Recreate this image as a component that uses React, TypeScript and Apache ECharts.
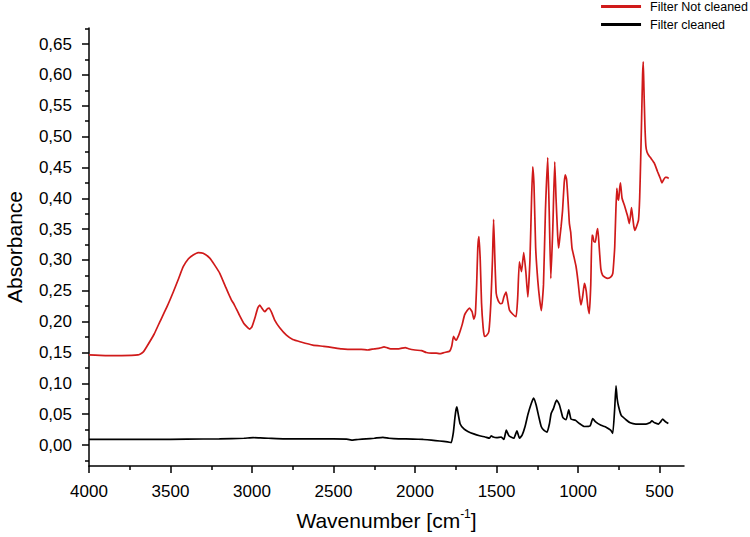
import React, { useEffect, useRef } from "react";
import * as echarts from "echarts";

const seriesNames = ["Filter Not cleaned", "Filter cleaned"];

const notCleanedWavenumber = [
  4000, 3900, 3800, 3700, 3670, 3647, 3600, 3565, 3520, 3483, 3450, 3422, 3390, 3361, 3330, 3300,
  3259, 3230, 3197, 3160, 3135, 3126, 3110, 3080, 3050, 3025, 3014, 3000, 2980, 2965, 2952, 2940,
  2922, 2905, 2895, 2880, 2860, 2830, 2789, 2750, 2700, 2627, 2560, 2505, 2450, 2382, 2330, 2290,
  2250, 2217, 2190, 2175, 2150, 2100, 2060, 2040, 2000, 1960, 1931, 1900, 1870, 1849, 1820, 1788,
  1775, 1764, 1755, 1747, 1735, 1723, 1710, 1696, 1680, 1666, 1650, 1639, 1630, 1622, 1615, 1608,
  1600, 1592, 1582, 1574, 1560, 1547, 1535, 1525, 1518, 1510, 1502, 1490, 1477, 1465, 1455, 1441,
  1432, 1421, 1400, 1380, 1370, 1360, 1347, 1333, 1320, 1308, 1295, 1285, 1278, 1270, 1260, 1247,
  1235, 1225, 1212, 1200, 1186, 1177, 1167, 1155, 1143, 1135, 1125, 1119, 1110, 1104, 1095, 1085,
  1078, 1070, 1060, 1053, 1045, 1037, 1025, 1012, 1000, 990, 982, 972, 961, 950, 940, 931,
  922, 915, 910, 903, 894, 885, 879, 870, 860, 849, 835, 818, 800, 787, 780, 775,
  768, 762, 756, 751, 745, 740, 730, 716, 707, 695, 686, 679, 672, 665, 658, 651,
  640, 629, 622, 616, 610, 604, 600, 596, 590, 584, 577, 565, 553, 540, 532, 512,
  495, 485, 475, 465, 455, 444,
];
const notCleanedAbsorbance = [
  0.146, 0.145, 0.145, 0.146, 0.15, 0.159, 0.18, 0.2, 0.225, 0.248, 0.27, 0.289, 0.302, 0.308, 0.312, 0.311,
  0.303, 0.292, 0.278, 0.255, 0.24, 0.235, 0.228, 0.212, 0.197, 0.19, 0.188, 0.192, 0.208, 0.222, 0.227, 0.222,
  0.216, 0.221, 0.222, 0.215, 0.202, 0.19, 0.178, 0.171, 0.167, 0.162, 0.16, 0.158, 0.156, 0.155, 0.155, 0.154,
  0.156, 0.157, 0.159, 0.158, 0.156, 0.156, 0.158, 0.156, 0.154, 0.153, 0.15, 0.149, 0.149, 0.148, 0.15, 0.152,
  0.16, 0.176, 0.172, 0.17, 0.176, 0.185, 0.196, 0.211, 0.218, 0.222, 0.216, 0.204, 0.212, 0.26, 0.32, 0.338,
  0.3, 0.23, 0.19, 0.176, 0.178, 0.184, 0.23, 0.3, 0.366, 0.3, 0.246, 0.234, 0.229, 0.23, 0.24, 0.248,
  0.235, 0.219, 0.212, 0.208, 0.24, 0.297, 0.281, 0.312, 0.28, 0.24, 0.3, 0.4, 0.451, 0.42, 0.32, 0.267,
  0.235, 0.218, 0.26, 0.38, 0.466, 0.38, 0.27, 0.35, 0.459, 0.4, 0.34, 0.319, 0.34, 0.354, 0.38, 0.425,
  0.438, 0.43, 0.39, 0.359, 0.345, 0.319, 0.305, 0.289, 0.265, 0.24, 0.227, 0.24, 0.262, 0.25, 0.225, 0.213,
  0.26, 0.34, 0.34, 0.33, 0.329, 0.345, 0.351, 0.32, 0.285, 0.275, 0.272, 0.27, 0.272, 0.278, 0.3, 0.321,
  0.38, 0.416, 0.4, 0.397, 0.415, 0.425, 0.4, 0.389, 0.381, 0.37, 0.359, 0.37, 0.385, 0.37, 0.355, 0.348,
  0.355, 0.365, 0.4, 0.46, 0.53, 0.6, 0.621, 0.58, 0.52, 0.485, 0.475, 0.469, 0.465, 0.46, 0.457, 0.443,
  0.432, 0.425, 0.43, 0.434, 0.434, 0.432,
];

const cleanedWavenumber = [
  4000, 3800, 3600, 3400, 3200, 3050, 2993, 2950, 2900, 2800, 2700, 2600, 2500, 2420, 2381, 2350,
  2300, 2250, 2197, 2160, 2100, 2013, 1950, 1900, 1849, 1800, 1778, 1765, 1755, 1748, 1743, 1735,
  1723, 1700, 1676, 1640, 1604, 1570, 1543, 1533, 1520, 1500, 1471, 1455, 1440, 1424, 1394, 1375,
  1359, 1343, 1325, 1308, 1290, 1273, 1257, 1240, 1226, 1210, 1190, 1175, 1165, 1151, 1140, 1131,
  1114, 1094, 1082, 1073, 1057, 1043, 1016, 992, 961, 926, 910, 894, 859, 828, 800, 787,
  775, 767, 760, 751, 735, 706, 680, 645, 583, 560, 547, 530, 506, 495, 481, 465,
  446,
];
const cleanedAbsorbance = [
  0.009, 0.009, 0.009, 0.0095, 0.01, 0.011, 0.012, 0.0115, 0.011, 0.01, 0.01, 0.01, 0.01, 0.0095, 0.008, 0.009,
  0.01, 0.011, 0.0125, 0.011, 0.01, 0.0097, 0.009, 0.008, 0.0065, 0.005, 0.004, 0.02, 0.045, 0.058, 0.062, 0.05,
  0.034, 0.026, 0.022, 0.018, 0.015, 0.013, 0.011, 0.015, 0.013, 0.012, 0.013, 0.009, 0.024, 0.015, 0.011, 0.023,
  0.011, 0.016, 0.03, 0.049, 0.065, 0.076, 0.065, 0.045, 0.03, 0.024, 0.021, 0.035, 0.051, 0.059, 0.068, 0.073,
  0.065, 0.045, 0.042, 0.041, 0.057, 0.042, 0.04, 0.035, 0.03, 0.031, 0.043, 0.038, 0.032, 0.029, 0.024, 0.019,
  0.06, 0.096, 0.075, 0.062, 0.048, 0.041, 0.036, 0.034, 0.034, 0.036, 0.039, 0.036, 0.034, 0.037, 0.042, 0.038,
  0.035,
];

const xMajorTicks = [4000, 3500, 3000, 2500, 2000, 1500, 1000, 500];
const xMinorTicks = [3750, 3250, 2750, 2250, 1750, 1250, 750];
const yMajorTicks = [0, 0.05, 0.1, 0.15, 0.2, 0.25, 0.3, 0.35, 0.4, 0.45, 0.5, 0.55, 0.6, 0.65];
const yMinorTicks = [-0.025, 0.025, 0.075, 0.125, 0.175, 0.225, 0.275, 0.325, 0.375, 0.425, 0.475, 0.525, 0.575, 0.625, 0.675];

const FONT = "'Liberation Sans', Arial, sans-serif";
const X_MIN = 350;
const X_MAX = 4000;
const Y_MIN = -0.034;
const Y_MAX = 0.676;

export default function App() {
  const ref = useRef<HTMLDivElement>(null);
  useEffect(() => {
    if (!ref.current) return;
    const chart = echarts.init(ref.current, null, { renderer: "svg" });
    const axisLineStyle = { color: "#000", width: 1.5 };
    chart.setOption({
      animation: false,
      backgroundColor: "#fff",
      textStyle: { fontFamily: FONT },
      grid: { left: 89, right: 66, top: 28, bottom: 71, containLabel: false, outerBoundsMode: "none" },
      legend: {
        data: seriesNames,
        orient: "vertical",
        right: 2,
        top: 0,
        padding: 0,
        icon: "rect",
        itemWidth: 40,
        itemHeight: 3,
        itemGap: 5,
        textStyle: { fontSize: 12.5, color: "#000", fontFamily: FONT, padding: [0, 0, 0, 4] },
      },
      xAxis: [
        {
          type: "value",
          inverse: true,
          min: X_MIN,
          max: X_MAX,
          position: "bottom",
          axisLine: { show: true, onZero: false, lineStyle: axisLineStyle },
          axisTick: { show: true, customValues: xMajorTicks, length: 7, lineStyle: axisLineStyle },
          axisLabel: {
            customValues: xMajorTicks,
            color: "#000",
            fontSize: 17,
            fontFamily: FONT,
            margin: 17,
            formatter: (v: number) => String(Math.round(v)),
          },
          splitLine: { show: false },
          name: "{a|Wavenumber [cm}{s|-1}{a|]}",
          nameLocation: "middle",
          nameGap: 42,
          nameTextStyle: {
            rich: {
              a: { fontSize: 21, fontFamily: FONT, color: "#000", lineHeight: 24 },
              s: { fontSize: 12, fontFamily: FONT, color: "#000", verticalAlign: "top", lineHeight: 24, padding: [0, 0, 8, 0] },
            },
          },
        },
        {
          type: "value",
          inverse: true,
          min: X_MIN,
          max: X_MAX,
          position: "bottom",
          axisLine: { show: false, onZero: false },
          axisTick: { show: true, customValues: xMinorTicks, length: 4, lineStyle: axisLineStyle },
          axisLabel: { show: false },
          splitLine: { show: false },
        },
      ],
      yAxis: [
        {
          type: "value",
          min: Y_MIN,
          max: Y_MAX,
          position: "left",
          axisLine: { show: true, onZero: false, lineStyle: axisLineStyle },
          axisTick: { show: true, customValues: yMajorTicks, length: 7, lineStyle: axisLineStyle },
          axisLabel: {
            customValues: yMajorTicks,
            color: "#000",
            fontSize: 17,
            fontFamily: FONT,
            margin: 17,
            formatter: (v: number) => v.toFixed(2).replace(".", ","),
          },
          splitLine: { show: false },
          name: "Absorbance",
          nameLocation: "middle",
          nameGap: 64,
          nameTextStyle: { fontSize: 21, color: "#000", fontFamily: FONT },
        },
        {
          type: "value",
          min: Y_MIN,
          max: Y_MAX,
          position: "left",
          axisLine: { show: false, onZero: false },
          axisTick: { show: true, customValues: yMinorTicks, length: 4, lineStyle: axisLineStyle },
          axisLabel: { show: false },
          splitLine: { show: false },
        },
      ],
      series: [
        {
          name: seriesNames[0],
          type: "line",
          xAxisIndex: 0,
          yAxisIndex: 0,
          showSymbol: false,
          symbol: "none",
          smooth: 0.15,
          color: "#d01a1a",
          lineStyle: { width: 1.7, color: "#d01a1a" },
          data: notCleanedWavenumber.map((w, i) => [w, notCleanedAbsorbance[i]]),
        },
        {
          name: seriesNames[1],
          type: "line",
          xAxisIndex: 0,
          yAxisIndex: 0,
          showSymbol: false,
          symbol: "none",
          smooth: 0.15,
          color: "#000",
          lineStyle: { width: 1.7, color: "#000" },
          data: cleanedWavenumber.map((w, i) => [w, cleanedAbsorbance[i]]),
        },
      ],
    });
    return () => chart.dispose();
  }, []);
  return (
    <div
      ref={ref}
      style={{ position: "fixed", left: 0, top: 0, width: 750, height: 537, background: "#fff" }}
    />
  );
}
